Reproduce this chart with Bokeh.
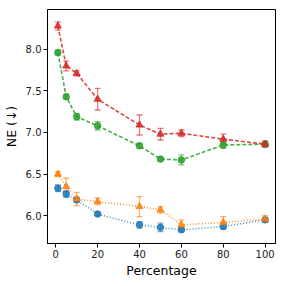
from bokeh.plotting import figure
from bokeh.models import ColumnDataSource, Whisker, TeeHead, Range1d, FixedTicker
from bokeh.embed import file_html
from bokeh.resources import INLINE

pct = [1, 5, 10, 20, 40, 50, 60, 80, 100]

red = [8.28, 7.80, 7.71, 7.40, 7.09, 6.98, 6.99, 6.92, 6.86]
red_err = [0.05, 0.06, 0.03, 0.13, 0.12, 0.07, 0.04, 0.06, 0.04]

green = [7.96, 7.43, 7.19, 7.08, 6.84, 6.68, 6.67, 6.85, 6.86]
green_err = [0.03, 0.03, 0.04, 0.05, 0.03, 0.02, 0.06, 0.04, 0.03]

orange = [6.50, 6.35, 6.20, 6.17, 6.11, 6.07, 5.89, 5.92, 5.96]
orange_err = [0.03, 0.10, 0.08, 0.04, 0.12, 0.04, 0.06, 0.07, 0.04]

blue = [6.33, 6.26, 6.19, 6.02, 5.89, 5.86, 5.83, 5.87, 5.95]
blue_err = [0.04, 0.04, 0.03, 0.02, 0.04, 0.05, 0.02, 0.03, 0.03]

x_ticks = [0, 20, 40, 60, 80, 100]
y_ticks = [6.0, 6.5, 7.0, 7.5, 8.0]

p = figure(frame_width=228, frame_height=234, output_backend="svg", toolbar_location=None,
           x_range=Range1d(-3.95, 104.95), y_range=Range1d(5.666, 8.478),
           min_border_left=46, min_border_right=2, min_border_top=9, min_border_bottom=30)

p.grid.visible = False
p.outline_line_color = "black"
p.outline_line_width = 1
p.background_fill_color = "white"

series = [
    (blue, blue_err, "#1f77b4", "circle", "1 2"),
    (orange, orange_err, "#ff7f0e", "triangle", "1 2"),
    (green, green_err, "#2ca02c", "circle", "4 2"),
    (red, red_err, "#d62728", "triangle", "4 2"),
]

for vals, errs, col, mk, dash in series:
    src = ColumnDataSource(dict(x=pct, y=vals,
                                lo=[v - e for v, e in zip(vals, errs)],
                                hi=[v + e for v, e in zip(vals, errs)]))
    p.line("x", "y", source=src, line_color=col, line_dash=dash, line_width=1.6, line_alpha=0.85)
    w = Whisker(base="x", lower="lo", upper="hi", source=src, line_color=col, line_alpha=0.6,
                line_width=1.3,
                upper_head=TeeHead(size=6, line_color=col, line_alpha=0.6, line_width=1.3),
                lower_head=TeeHead(size=6, line_color=col, line_alpha=0.6, line_width=1.3))
    p.add_layout(w)
    p.scatter("x", "y", source=src, marker=mk, size=7 if mk == "triangle" else 6.5,
              fill_color=col, line_color=col, fill_alpha=0.85, line_alpha=0.85)

for ax in (p.xaxis[0], p.yaxis[0]):
    ax.major_label_text_font = "DejaVu Sans"
    ax.major_label_text_font_size = "10px"
    ax.major_label_text_color = "#222222"
    ax.axis_label_text_font = "DejaVu Sans"
    ax.axis_label_text_font_size = "12.5px"
    ax.axis_label_text_font_style = "normal"
    ax.axis_label_text_color = "black"
    ax.minor_tick_line_color = None
    ax.major_tick_out = 4
    ax.major_tick_in = 0
    ax.axis_line_color = "black"
    ax.major_tick_line_color = "black"

p.xaxis[0].ticker = FixedTicker(ticks=x_ticks)
p.yaxis[0].ticker = FixedTicker(ticks=y_ticks)
p.yaxis[0].major_label_overrides = {t: f"{t:.1f}" for t in y_ticks}
p.xaxis[0].axis_label = "Percentage"
p.yaxis[0].axis_label = "NE (↓)"
p.xaxis[0].axis_label_standoff = 2
p.yaxis[0].axis_label_standoff = 4
p.xaxis[0].major_label_standoff = 2
p.yaxis[0].major_label_standoff = 2

open("out.html", "w").write(file_html(p, INLINE))
